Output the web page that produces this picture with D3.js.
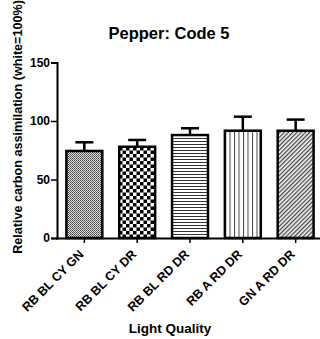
<!DOCTYPE html>
<html><head><meta charset="utf-8">
<script src="https://cdn.jsdelivr.net/npm/d3@7"></script>
<style>body{margin:0;background:#fff}svg{display:block}text{font-family:"Liberation Sans",Arial,sans-serif;font-weight:bold}</style>
</head><body><svg id="c" width="320" height="339"></svg>
<script>
const categories = ["RB BL CY GN","RB BL CY DR","RB BL RD DR","RB A RD DR","GN A RD DR"];
const means = [74.4, 78, 88, 91.7, 91.7];
const errors = [7.4, 5.8, 5.8, 12, 9.5];
const yTicks = [0, 50, 100, 150];
const patterns = ["fine","checker","hlines","vlines","diag"];

const svg = d3.select("#c");
const x = d3.scaleBand().domain(categories).range([59, 321]).paddingInner(0.32).paddingOuter(0.14);
const y = d3.scaleLinear().domain([0,150]).range([238, 62.5]);

const defs = svg.append("defs");
let p = defs.append("pattern").attr("id","fine").attr("patternUnits","userSpaceOnUse").attr("width",2).attr("height",2);
p.append("rect").attr("width",2).attr("height",2).attr("fill","#ddd");
p.append("rect").attr("width",1).attr("height",1).attr("fill","#444");
p.append("rect").attr("x",1).attr("y",1).attr("width",1).attr("height",1).attr("fill","#666");
p = defs.append("pattern").attr("id","checker").attr("patternUnits","userSpaceOnUse").attr("width",7).attr("height",7);
p.append("rect").attr("width",7).attr("height",7).attr("fill","#fff");
p.append("rect").attr("width",3.5).attr("height",3.5).attr("fill","#000");
p.append("rect").attr("x",3.5).attr("y",3.5).attr("width",3.5).attr("height",3.5).attr("fill","#000");
p = defs.append("pattern").attr("id","hlines").attr("patternUnits","userSpaceOnUse").attr("width",4).attr("height",3);
p.append("rect").attr("width",4).attr("height",3).attr("fill","#fff");
p.append("rect").attr("y",0).attr("width",4).attr("height",1).attr("fill","#333");
p = defs.append("pattern").attr("id","vlines").attr("patternUnits","userSpaceOnUse").attr("width",4.5).attr("height",4);
p.append("rect").attr("width",4.5).attr("height",4).attr("fill","#fff");
p.append("rect").attr("x",0).attr("width",1).attr("height",4).attr("fill","#444");
p = defs.append("pattern").attr("id","diag").attr("patternUnits","userSpaceOnUse").attr("width",3).attr("height",3).attr("patternTransform","rotate(45)");
p.append("rect").attr("width",3).attr("height",3).attr("fill","#eee");
p.append("rect").attr("width",1.2).attr("height",3).attr("fill","#444");

const g = svg.append("g");
g.selectAll("rect.bar").data(categories).join("rect").attr("class","bar")
  .attr("x", d=>x(d)).attr("width", x.bandwidth())
  .attr("y", (d,i)=>y(means[i])).attr("height",(d,i)=>y(0)-y(means[i]))
  .attr("fill",(d,i)=>`url(#${patterns[i]})`).attr("stroke","#000").attr("stroke-width",2.5);
categories.forEach((d,i)=>{
  const cx = x(d)+x.bandwidth()/2;
  g.append("line").attr("x1",cx).attr("x2",cx).attr("y1",y(means[i])).attr("y2",y(means[i]+errors[i])).attr("stroke","#000").attr("stroke-width",2.5);
  g.append("line").attr("x1",cx-9).attr("x2",cx+9).attr("y1",y(means[i]+errors[i])).attr("y2",y(means[i]+errors[i])).attr("stroke","#000").attr("stroke-width",2.5);
});

const ya = svg.append("g").attr("transform","translate(57,0)")
  .call(d3.axisLeft(y).tickValues(yTicks).tickSize(6).tickPadding(1));
ya.select(".domain").attr("stroke-width",2);
ya.selectAll(".tick line").attr("stroke-width",1.5);
ya.selectAll("text").attr("font-size","12px").attr("fill","#000");

const xa = svg.append("g").attr("transform","translate(0,238)")
  .call(d3.axisBottom(x).tickSize(5).tickSizeOuter(0));
xa.select(".domain").attr("d","M56,0.5H320").attr("stroke-width",2);
xa.selectAll(".tick line").attr("stroke-width",1.5);
xa.selectAll("text").attr("font-size","12.5px").attr("fill","#000")
  .attr("text-anchor","end").attr("dy",0).attr("y",0)
  .attr("transform","translate(0,17) rotate(-45)");

svg.append("text").attr("x",169).attr("y",39).attr("text-anchor","middle").attr("font-size","16.5px").text("Pepper: Code 5");
svg.append("text").attr("x",170).attr("y",333).attr("text-anchor","middle").attr("font-size","13.5px").text("Light Quality");
svg.append("text").attr("transform","translate(22,127) rotate(-90)").attr("text-anchor","middle").attr("font-size","12.6px").text("Relative carbon assimilation (white=100%)");
</script></body></html>
